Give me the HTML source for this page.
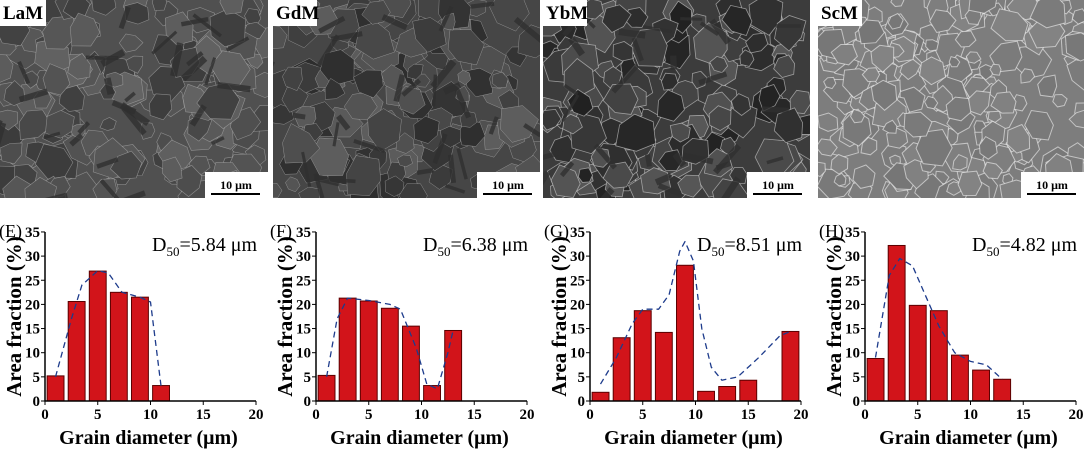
<!DOCTYPE html>
<html><head><meta charset="utf-8"><style>
html,body{margin:0;padding:0;background:#fff;width:1084px;height:450px;overflow:hidden}
svg{display:block}
text{font-family:"Liberation Serif",serif}
</style></head><body>
<svg id="s" width="1084" height="450" xmlns="http://www.w3.org/2000/svg"></svg>
<script>
const S=document.getElementById('s');let h='';
let seed=7;function r(){seed=(seed*16807)%2147483647;return seed/2147483647;}
const imgs=[[0,268,'LaM',80,'#b8b8b8',0.6,40],[273,540,'GdM',70,'#c0c0c0',0.5,50],[543,810,'YbM',60,'#d8d8d8',0.8,55],[818,1084,'ScM',125,'#f4f4f4',1.0,14]];
imgs.forEach(([x0,x1,lab,base,bc,bw,vr],k)=>{
 const w=x1-x0;h+=`<clipPath id="c${k}"><rect x="${x0}" y="0" width="${w}" height="198"/></clipPath><g clip-path="url(#c${k})"><rect x="${x0}" y="0" width="${w}" height="198" fill="rgb(${base},${base},${base})"/>`;
 const N=k==3?220:160;
 for(let i=0;i<N;i++){const cx=x0+r()*w,cy=r()*198,rad=(k==3?6:8)+r()*14;const n=6;let p=[];const a0=r()*6;for(let j=0;j<n;j++){const a=a0+j*Math.PI*2/n,rr=rad*(0.7+r()*0.4);p.push((cx+rr*Math.cos(a)).toFixed(1)+','+(cy+rr*Math.sin(a)).toFixed(1));}
 const g=Math.max(20,Math.min(200,base+(r()-0.5)*vr));h+=`<polygon points="${p.join(' ')}" fill="rgb(${g|0},${g|0},${g|0})" stroke="${bc}" stroke-width="${bw}" stroke-opacity="0.6"/>`;}
 if(k<3){for(let i=0;i<30;i++){const cx=x0+r()*w,cy=r()*198,a=r()*3.14,L=12+r()*25;h+=`<line x1="${cx}" y1="${cy}" x2="${cx+L*Math.cos(a)}" y2="${cy+L*Math.sin(a)}" stroke="#303030" stroke-width="${3+r()*4}" stroke-opacity="0.8"/>`;}}
 h+=`</g><rect x="${x0}" y="0" width="${lab=='LaM'?46:44}" height="26" fill="#fff"/><text x="${x0+3}" y="19" font-size="19" font-weight="bold">${lab}</text>`;
 h+=`<rect x="${x1-63}" y="172" width="63" height="26" fill="#fff"/><text x="${x1-32}" y="189" font-size="12" font-weight="bold" text-anchor="middle">10 μm</text><line x1="${x1-57}" y1="194" x2="${x1-8}" y2="194" stroke="#000" stroke-width="2"/>`;
});
const P=[
 {l:'(E)',x0:45,d:'5.84',b:[5.2,20.6,26.9,22.5,21.5,3.2],c:[[1,5],[2.5,17],[3.5,24],[5,27],[6,26.5],[7.3,22.5],[9,21.5],[10,20.5],[11,3]]},
 {l:'(F)',x0:316,d:'6.38',b:[5.3,21.3,20.7,19.2,15.5,3.2,14.6],c:[[1,5],[2,17],[3,21.3],[5,20.8],[7,20],[8,19],[9.5,11],[10.5,3.5],[11.5,2.5],[12.5,10],[13,14.6]]},
 {l:'(G)',x0:590,d:'8.51',b:[1.8,13.1,18.7,14.2,28.1,2.0,3.0,4.3,0,14.4],c:[[1,3.5],[2.5,9],[4,16],[5,19],[6.5,19],[7.5,22],[8.5,31],[9,33],[9.8,29],[10.6,15],[11.5,7],[12.5,4.3],[14,5],[16,9],[18,13.5],[19,14.4]]},
 {l:'(H)',x0:865,d:'4.82',b:[8.8,32.2,19.8,18.7,9.5,6.4,4.5],c:[[1,9],[2.3,26],[3.3,29.5],[4.5,28],[5.5,23],[7,15.5],[8.5,10],[10,8.2],[11.5,7.5],[12.5,5.5],[13,4.5]]}];
P.forEach(p=>{
 const X=v=>p.x0+v*10.55,Y=v=>401-v*4.83;
 p.b.forEach((v,i)=>{if(v>0){const c=1+2*i;h+=`<rect x="${X(c-0.8)}" y="${Y(v)}" width="${1.6*10.55}" height="${v*4.83}" fill="#d2141a" stroke="#5a0000" stroke-width="1"/>`;}});
 let d='M'+p.c.map(q=>X(q[0]).toFixed(1)+','+Y(q[1]).toFixed(1)).join(' L');
 h+=`<path d="${d}" fill="none" stroke="#1e3c8c" stroke-width="1.3" stroke-dasharray="6,4" stroke-linejoin="round"/>`;
 h+=`<path d="M${X(0)},${Y(35)} V${Y(0)} H${X(20)}" fill="none" stroke="#000" stroke-width="1.5"/>`;
 for(let t=0;t<=35;t+=5){h+=`<line x1="${X(0)-4}" y1="${Y(t)}" x2="${X(0)}" y2="${Y(t)}" stroke="#000"/><text x="${X(0)-5}" y="${Y(t)+5}" font-size="15" font-weight="bold" text-anchor="end">${t}</text>`;}
 for(let t=0;t<=20;t+=5){h+=`<line x1="${X(t)}" y1="${Y(0)}" x2="${X(t)}" y2="${Y(0)+4}" stroke="#000"/><text x="${X(t)}" y="${Y(0)+18}" font-size="15" font-weight="bold" text-anchor="middle">${t}</text>`;}
 h+=`<text x="${p.x0-46}" y="237" font-size="18">${p.l}</text>`;
 h+=`<text x="${p.x0+212}" y="251" font-size="20" text-anchor="end">D<tspan font-size="13" dy="5">50</tspan><tspan dy="-5">=${p.d} μm</tspan></text>`;
 h+=`<text transform="translate(${p.x0-24},${Y(17.5)}) rotate(-90)" font-size="21" font-weight="bold" text-anchor="middle">Area fraction (%)</text>`;
 h+=`<text x="${X(10)-2}" y="444" font-size="20" font-weight="bold" text-anchor="middle">Grain diameter (μm)</text>`;
});
S.innerHTML=h;
</script>
</body></html>
